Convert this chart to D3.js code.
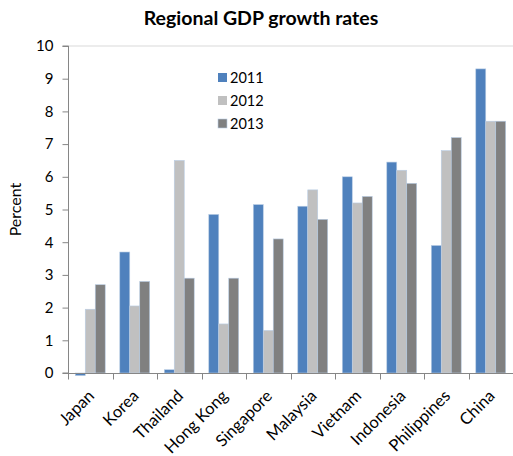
<!DOCTYPE html>
<html>
<head>
<meta charset="utf-8">
<script src="https://cdn.jsdelivr.net/npm/d3@7"></script>
<style>
  html, body { margin: 0; padding: 0; background: #fff; }
  svg { display: block; }
  text { font-family: Lato, "Open Sans", sans-serif; fill: #000; }
</style>
</head>
<body>
<svg id="chart" width="513" height="456"></svg>
<script>
const categories = ["Japan", "Korea", "Thailand", "Hong Kong", "Singapore", "Malaysia", "Vietnam", "Indonesia", "Philippines", "China"];
const seriesNames = ["2011", "2012", "2013"];
const values2011 = [-0.08, 3.7, 0.1, 4.85, 5.15, 5.1, 6.0, 6.45, 3.9, 9.3];
const values2012 = [1.95, 2.05, 6.5, 1.5, 1.3, 5.6, 5.2, 6.2, 6.8, 7.7];
const values2013 = [2.7, 2.8, 2.9, 2.9, 4.1, 4.7, 5.4, 5.8, 7.2, 7.7];
const colors = ["#4f81bd", "#c0c0c0", "#808080"];
const yTicks = [0, 1, 2, 3, 4, 5, 6, 7, 8, 9, 10];
const titleText = "Regional GDP growth rates";
const yLabel = "Percent";

const series = [values2011, values2012, values2013];
const svg = d3.select("#chart");
const margin = {left: 68, right: 0, top: 46, bottom: 83};
const W = 513, H = 456;

const x = d3.scaleBand().domain(categories).range([margin.left, W - margin.right]).paddingInner(0).paddingOuter(0);
const x1 = d3.scaleBand().domain(seriesNames).range([0, x.bandwidth()]).paddingOuter(0.73).paddingInner(0);
const y = d3.scaleLinear().domain([0, 10]).range([H - margin.bottom, margin.top]);

// top border line
svg.append("line")
  .attr("x1", margin.left).attr("x2", W - margin.right)
  .attr("y1", y(10)).attr("y2", y(10))
  .attr("stroke", "#d9d9d9").attr("stroke-width", 1);

// bars
const groups = svg.append("g").selectAll("g")
  .data(categories).join("g")
  .attr("transform", d => `translate(${x(d)},0)`);

groups.selectAll("rect")
  .data((d, i) => seriesNames.map((s, j) => ({s, j, v: series[j][i]})))
  .join("rect")
  .attr("x", d => x1(d.s))
  .attr("width", x1.bandwidth())
  .attr("y", d => y(Math.max(0, d.v)))
  .attr("height", d => Math.abs(y(d.v) - y(0)))
  .attr("fill", d => colors[d.j])
  .attr("stroke", "#b9cde5")
  .attr("stroke-width", 0.6);

// y axis
const yAxis = d3.axisLeft(y).tickValues(yTicks).tickSize(6).tickPadding(9).tickFormat(d3.format("d"));
const gy = svg.append("g").attr("transform", `translate(${margin.left + 0.5},0)`).call(yAxis);
gy.select(".domain").attr("stroke", "#868686").attr("d", `M-6,${y(10)}H0V${y(0)}H-6`);
gy.selectAll(".tick line").attr("stroke", "#868686");
gy.selectAll(".tick text").attr("font-size", 15).attr("font-family", "Lato, sans-serif");

// x axis
const xAxis = d3.axisBottom(x).tickSize(0).tickFormat("");
const gx = svg.append("g").attr("transform", `translate(0,${y(0) + 0.5})`).call(xAxis);
gx.select(".domain").attr("stroke", "#868686").attr("d", `M${margin.left},0H${W - margin.right}`);
gx.selectAll(".tick").remove();
// x ticks at band boundaries
const boundaries = categories.map(c => x(c)).concat([x(categories[categories.length - 1]) + x.bandwidth()]);
gx.selectAll("line.bt").data(boundaries).join("line")
  .attr("class", "bt")
  .attr("x1", d => Math.round(d) + 0.5).attr("x2", d => Math.round(d) + 0.5)
  .attr("y1", 0).attr("y2", 6)
  .attr("stroke", "#868686");

// x labels rotated
svg.append("g").selectAll("text")
  .data(categories).join("text")
  .attr("transform", d => `translate(${x(d) + x.bandwidth() / 2 + 5},${y(0) + 24}) rotate(-45)`)
  .attr("text-anchor", "end")
  .attr("font-size", 16.5)
  .text(d => d);

// title
svg.append("text")
  .attr("x", 261).attr("y", 25)
  .attr("text-anchor", "middle")
  .attr("font-size", 19.5)
  .attr("font-weight", "bold")
  .text(titleText);

// y label
svg.append("text")
  .attr("transform", `translate(21,${(y(0) + y(10)) / 2}) rotate(-90)`)
  .attr("text-anchor", "middle")
  .attr("font-size", 16)
  .text(yLabel);

// legend
const legend = svg.append("g").selectAll("g")
  .data(seriesNames).join("g")
  .attr("transform", (d, i) => `translate(218,${77.5 + i * 23})`);
legend.append("rect")
  .attr("x", 0).attr("y", -4.5).attr("width", 9).attr("height", 9)
  .attr("fill", (d, i) => colors[i])
  .attr("stroke", (d, i) => i === 2 ? "#b9cde5" : "none")
  .attr("stroke-width", 0.6);
legend.append("text")
  .attr("x", 12).attr("y", 5)
  .attr("font-size", 14.5)
  .text(d => d);
</script>
</body>
</html>
